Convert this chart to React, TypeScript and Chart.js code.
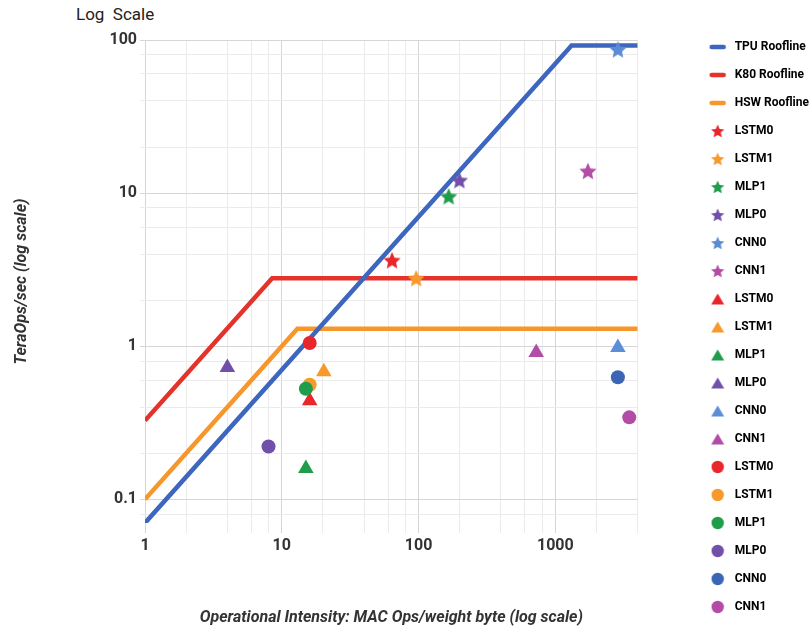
import React, { useEffect, useRef } from 'react';
import { Chart, registerables } from 'chart.js';

Chart.register(...registerables);

const FONT = 'Roboto, "Noto Sans", "DejaVu Sans", sans-serif';
const TEXT = '#333333';

// Axis ranges and ticks
const X_MIN = 1;
const X_MAX = 4000;
const Y_MIN = 0.07;
const Y_MAX = 100;
const xTickValues = [1, 2, 4, 6, 8, 10, 20, 40, 60, 80, 100, 200, 400, 600, 800, 1000, 2000, 4000];
const yTickValues = [0.08, 0.1, 0.2, 0.4, 0.6, 0.8, 1, 2, 4, 6, 8, 10, 20, 40, 60, 80, 100];

// Rooflines
const rooflineNames = ['TPU Roofline', 'K80 Roofline', 'HSW Roofline'];
const rooflineColors = ['#3d67bf', '#e3332b', '#f7962a'];
const tpuRoofX = [1, 1314, 4000];
const tpuRoofY = [0.07, 92, 92];
const k80RoofX = [1, 8.5, 4000];
const k80RoofY = [0.327, 2.78, 2.78];
const hswRoofX = [1, 13, 4000];
const hswRoofY = [0.1, 1.3, 1.3];

// Applications
const appNames = ['LSTM0', 'LSTM1', 'MLP1', 'MLP0', 'CNN0', 'CNN1'];
const starColors = ['#e9262c', '#f7992b', '#1f9d4b', '#7150aa', '#5b8bd4', '#b24ca6'];
const triColors = ['#e9262c', '#f7992b', '#1f9d4b', '#7150aa', '#5a8fd8', '#b24ca6'];
const circleColors = ['#e9262c', '#f7992b', '#1f9d4b', '#7150aa', '#3b65b5', '#b24ca6'];

// Stars: TPU
const starX = [64, 96, 166, 199, 2866, 1730];
const starY = [3.63, 2.77, 9.5, 12.1, 86.5, 13.9];
// Triangles: K80
const triX = [16, 20.3, 15, 4.0, 2866, 725];
const triY = [0.44, 0.68, 0.159, 0.726, 0.98, 0.91];
// Circles: HSW
const circX = [16, 16, 15, 8.0, 2866, 3470];
const circY = [1.05, 0.56, 0.527, 0.221, 0.627, 0.343];

const isPow10 = (v: number) => {
  const l = Math.log10(v);
  return Math.abs(l - Math.round(l)) < 1e-9;
};

function makeCanvas(w: number, h: number) {
  const c = document.createElement('canvas');
  c.width = w;
  c.height = h;
  return c;
}

function makeStar(color: string, R: number) {
  const size = Math.ceil(R * 2 + 2);
  const c = makeCanvas(size, size);
  const ctx = c.getContext('2d')!;
  ctx.fillStyle = color;
  ctx.beginPath();
  for (let i = 0; i < 10; i++) {
    const r = i % 2 === 0 ? R : R * 0.47;
    const a = -Math.PI / 2 + (i * Math.PI) / 5;
    const px = size / 2 + r * Math.cos(a);
    const py = size / 2 + 0.6 + r * Math.sin(a);
    if (i === 0) ctx.moveTo(px, py);
    else ctx.lineTo(px, py);
  }
  ctx.closePath();
  ctx.fill();
  return c;
}

function makeLineIcon(color: string) {
  const c = makeCanvas(18, 8);
  const ctx = c.getContext('2d')!;
  ctx.strokeStyle = color;
  ctx.lineWidth = 4.5;
  ctx.lineCap = 'round';
  ctx.beginPath();
  ctx.moveTo(3, 4);
  ctx.lineTo(15, 4);
  ctx.stroke();
  return c;
}

function makeTriangleIcon(color: string) {
  const c = makeCanvas(14, 14);
  const ctx = c.getContext('2d')!;
  ctx.fillStyle = color;
  ctx.beginPath();
  ctx.moveTo(7, 1.5);
  ctx.lineTo(13.5, 12.5);
  ctx.lineTo(0.5, 12.5);
  ctx.closePath();
  ctx.fill();
  return c;
}

function makeCircleIcon(color: string) {
  const c = makeCanvas(14, 14);
  const ctx = c.getContext('2d')!;
  ctx.fillStyle = color;
  ctx.beginPath();
  ctx.arc(7, 7, 6.2, 0, Math.PI * 2);
  ctx.fill();
  return c;
}

const toPts = (xs: number[], ys: number[]) => xs.map((x, i) => ({ x, y: ys[i] }));

export default function App() {
  const ref = useRef<HTMLCanvasElement | null>(null);

  useEffect(() => {
    if (!ref.current) return;

    const roofData = [toPts(tpuRoofX, tpuRoofY), toPts(k80RoofX, k80RoofY), toPts(hswRoofX, hswRoofY)];
    const chartStars = starColors.map((c) => makeStar(c, 9));

    const datasets: any[] = [];
    const legendIcons: any[] = [];

    roofData.forEach((d, i) => {
      datasets.push({
        label: rooflineNames[i],
        data: d,
        showLine: true,
        borderColor: rooflineColors[i],
        backgroundColor: rooflineColors[i],
        borderWidth: 4.5,
        pointRadius: 0,
        fill: false,
        tension: 0,
        order: 10 + i,
      });
      legendIcons.push(makeLineIcon(rooflineColors[i]));
    });

    appNames.forEach((n, i) => {
      datasets.push({
        label: n,
        data: [{ x: starX[i], y: starY[i] }],
        pointStyle: chartStars[i],
        backgroundColor: starColors[i],
        borderWidth: 0,
        pointRadius: 9,
        order: 3 + (5 - i) * 0.01,
      });
      legendIcons.push(makeStar(starColors[i], 7));
    });

    appNames.forEach((n, i) => {
      datasets.push({
        label: n,
        data: [{ x: triX[i], y: triY[i] }],
        pointStyle: 'triangle',
        backgroundColor: triColors[i],
        borderColor: triColors[i],
        borderWidth: 0,
        pointRadius: 9,
        order: 2 + (5 - i) * 0.01,
      });
      legendIcons.push(makeTriangleIcon(triColors[i]));
    });

    appNames.forEach((n, i) => {
      datasets.push({
        label: n,
        data: [{ x: circX[i], y: circY[i] }],
        pointStyle: 'circle',
        backgroundColor: circleColors[i],
        borderColor: circleColors[i],
        borderWidth: 0,
        pointRadius: 7,
        order: 1 + (5 - i) * 0.01,
      });
      legendIcons.push(makeCircleIcon(circleColors[i]));
    });

    const gridColor = (ctx: any) => {
      const v = ctx && ctx.tick ? ctx.tick.value : 0;
      return v && isPow10(v) ? '#d6d6d6' : '#ebebeb';
    };

    const chart = new Chart(ref.current, {
      type: 'scatter',
      data: { datasets },
      options: {
        animation: false,
        responsive: true,
        maintainAspectRatio: false,
        events: [],
        layout: { padding: { top: 25, left: 0, right: 0, bottom: 0 } },
        plugins: {
          tooltip: { enabled: false },
          title: { display: false },
          legend: {
            position: 'right',
            align: 'start',
            labels: {
              usePointStyle: true,
              pointStyleWidth: 22,
              padding: 16,
              color: TEXT,
              font: { family: FONT, size: 12, weight: 'bold' },
              generateLabels: (c: any) =>
                c.data.datasets.map((ds: any, i: number) => ({
                  text: ds.label,
                  pointStyle: legendIcons[i],
                  fillStyle: 'rgba(0,0,0,0)',
                  strokeStyle: 'rgba(0,0,0,0)',
                  lineWidth: 0,
                  hidden: false,
                  datasetIndex: i,
                })),
            },
          },
        },
        scales: {
          x: {
            type: 'logarithmic',
            position: 'bottom',
            min: X_MIN,
            max: X_MAX,
            afterBuildTicks: (s: any) => {
              s.ticks = xTickValues.map((v) => ({ value: v, major: isPow10(v) }));
            },
            afterFit: (s: any) => {
              s.height = 109;
            },
            ticks: {
              autoSkip: false,
              maxRotation: 0,
              padding: 3,
              color: TEXT,
              font: { family: FONT, size: 16, weight: 'bold' },
              callback: (v: any) => (isPow10(Number(v)) ? String(Number(v)) : ''),
            },
            grid: { color: gridColor, tickColor: gridColor, tickLength: 10, lineWidth: 1 },
            border: { display: false },
            title: {
              display: true,
              text: 'Operational Intensity: MAC Ops/weight byte (log scale)',
              color: TEXT,
              font: { family: FONT, size: 16, weight: 'bold', style: 'italic' },
              padding: { top: 4, bottom: 4 },
            },
          },
          y: {
            type: 'logarithmic',
            position: 'left',
            min: Y_MIN,
            max: Y_MAX,
            afterBuildTicks: (s: any) => {
              s.ticks = yTickValues.map((v) => ({ value: v, major: isPow10(v) }));
            },
            afterFit: (s: any) => {
              s.width = 145;
            },
            ticks: {
              autoSkip: false,
              padding: 3,
              color: TEXT,
              font: { family: FONT, size: 16, weight: 'bold' },
              callback: (v: any) => (isPow10(Number(v)) ? String(Number(v)) : ''),
            },
            grid: { color: gridColor, tickColor: gridColor, tickLength: 5, lineWidth: 1 },
            border: { display: false },
            title: {
              display: true,
              text: 'TeraOps/sec (log scale)',
              color: TEXT,
              font: { family: FONT, size: 16, weight: 'bold', style: 'italic' },
              padding: { top: 12, bottom: 0 },
            },
          },
          xTop: {
            type: 'linear',
            position: 'top',
            display: true,
            ticks: { display: false },
            grid: { display: false, drawTicks: false },
            border: { display: false },
            afterFit: (s: any) => {
              s.height = 15;
            },
          },
          yRight: {
            type: 'linear',
            position: 'right',
            display: true,
            ticks: { display: false },
            grid: { display: false, drawTicks: false },
            border: { display: false },
            afterFit: (s: any) => {
              s.width = 53;
            },
          },
        },
      } as any,
    });

    return () => chart.destroy();
  }, []);

  return (
    <div
      style={{
        position: 'fixed',
        left: 0,
        top: 0,
        width: 811,
        height: 632,
        overflow: 'hidden',
        background: '#ffffff',
      }}
    >
      <div
        style={{
          position: 'absolute',
          left: 76,
          top: 4,
          fontFamily: FONT,
          fontSize: 17,
          lineHeight: '20px',
          color: '#222',
          whiteSpace: 'nowrap',
        }}
      >
        Log&nbsp; Scale
      </div>
      <div style={{ position: 'absolute', left: 0, top: 0, width: 819, height: 632 }}>
        <canvas ref={ref} />
      </div>
    </div>
  );
}
